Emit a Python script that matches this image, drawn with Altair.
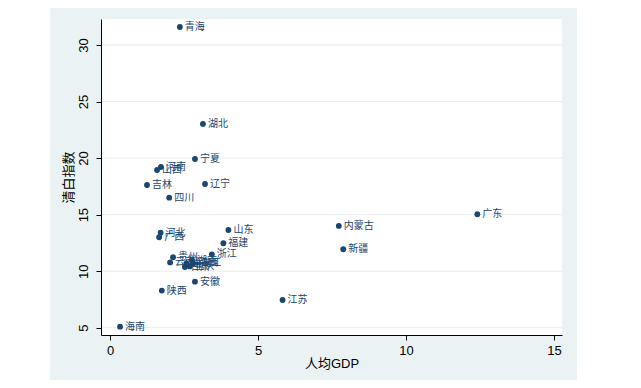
import altair as alt
import pandas as pd

provinces = ["青海", "湖北", "宁夏", "河南", "山西", "吉林", "辽宁", "四川", "山东", "福建",
             "河北", "广西", "浙江", "安徽", "陕西", "广东", "内蒙古", "新疆", "江苏", "海南",
             "贵州", "云南", "湖南", "江西", "甘肃", "重庆", "黑龙江"]
gdp = [2.36, 3.14, 2.87, 1.72, 1.59, 1.25, 3.21, 2.00, 4.00, 3.83,
       1.71, 1.66, 3.44, 2.87, 1.75, 12.41, 7.73, 7.88, 5.83, 0.34,
       2.13, 2.03, 2.77, 2.81, 2.53, 2.69, 2.58]
index = [31.59, 23.02, 19.92, 19.21, 18.95, 17.62, 17.71, 16.50, 13.64, 12.47,
         13.40, 13.00, 11.49, 9.07, 8.28, 15.03, 14.00, 11.94, 7.45, 5.09,
         11.23, 10.77, 10.93, 10.68, 10.37, 10.42, 10.68]
x_ticks = [0, 5, 10, 15]
y_ticks = [5, 10, 15, 20, 25, 30]

df = pd.DataFrame({"prov": provinces, "gdp": gdp, "idx": index})

W, H = 461, 316
NAVY = "#1a476f"
BG = "#eaf2f3"
FONT = "Liberation Sans, Noto Sans CJK SC"

xs = alt.Scale(domain=[-0.304, 15.27], nice=False, zero=False)
ys = alt.Scale(domain=[4.355, 32.30], nice=False, zero=False)

one = alt.Data(values=[{"a": 1}])

bg = alt.Chart(one).mark_rect(color=BG).encode(
    x=alt.value(-51), x2=alt.value(476), y=alt.value(-11), y2=alt.value(380)
)
plotbg = alt.Chart(one).mark_rect(color="white").encode(
    x=alt.value(0), x2=alt.value(W), y=alt.value(0), y2=alt.value(H)
)

grid = alt.Chart(pd.DataFrame({"idx": y_ticks})).mark_rule(color="#e6ecee", strokeWidth=1).encode(
    y=alt.Y("idx:Q", scale=ys),
    x=alt.value(0), x2=alt.value(W)
)

base = alt.Chart(df).encode(
    x=alt.X("gdp:Q", scale=xs, title="人均GDP",
            axis=alt.Axis(values=x_ticks, grid=False, labelAngle=0, labelPadding=4,
                          titlePadding=0, format="d", zindex=2)),
    y=alt.Y("idx:Q", scale=ys, title="清白指数",
            axis=alt.Axis(values=y_ticks, grid=False, labelAngle=-90, labelAlign="center",
                          labelBaseline="bottom", labelPadding=6, titlePadding=2, format="d",
                          zindex=2)),
)

pts = base.mark_circle(size=34, color=NAVY, opacity=1)
labels = base.mark_text(align="left", baseline="middle", dx=5, fontSize=10,
                        font="Noto Sans CJK SC", color=NAVY).encode(text="prov:N")

chart = alt.layer(bg, plotbg, grid, pts, labels).properties(
    width=W, height=H,
    autosize=alt.AutoSizeParams(type="none"),
    padding={"left": 93, "top": 11, "right": 71, "bottom": 45},
    background="white",
).configure_view(stroke=None, fill="white").configure_axis(
    domainColor="black", tickColor="black", tickSize=5, domainWidth=1, tickWidth=1,
    labelFont=FONT, titleFont=FONT, labelFontSize=13, titleFontSize=13,
    labelColor="black", titleColor="black", titleFontWeight="normal",
)

chart.save("out.html", embed_options={"renderer": "svg", "actions": False})
